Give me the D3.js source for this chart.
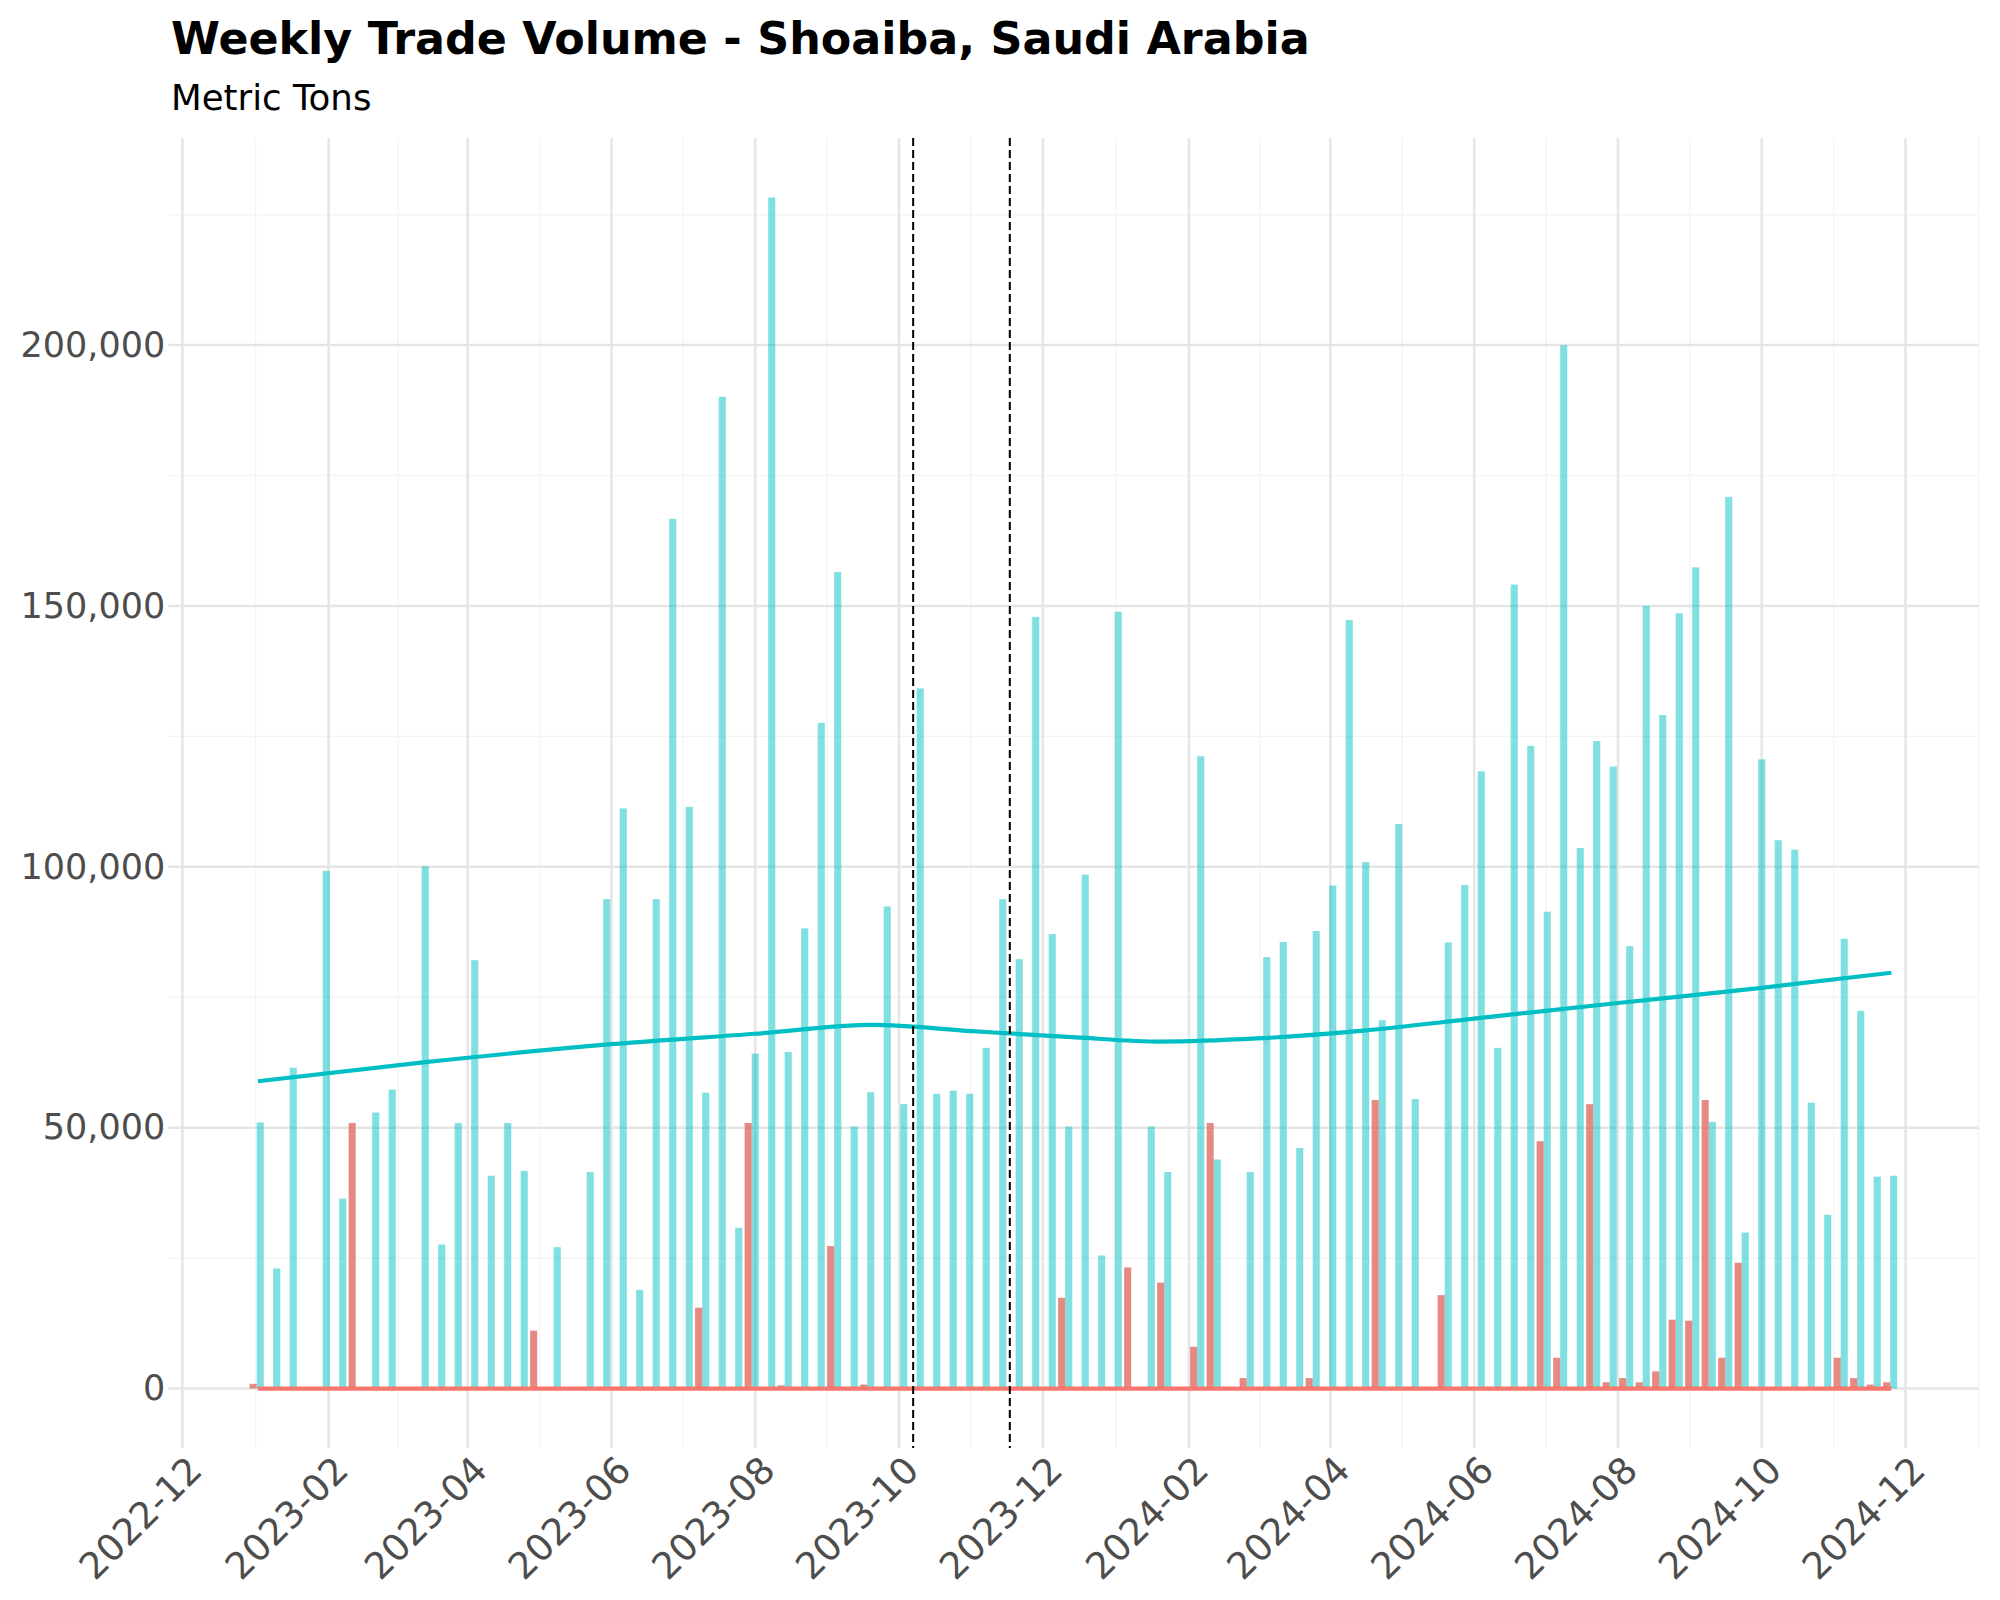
<!DOCTYPE html>
<html>
<head>
<meta charset="utf-8">
<title>Weekly Trade Volume - Shoaiba, Saudi Arabia</title>
<script src="https://cdn.jsdelivr.net/npm/d3@7"></script>
<style>
  body { margin: 0; background: #fff; }
  text { font-family: "DejaVu Sans", sans-serif; }
</style>
</head>
<body>
<div id="chart"></div>
<script>
// teal series: one bar per week, first week 2023-01-03 (0 = no bar that week)
var tealStart = "2023-01-03";
var tealVolumes = [
  51000, 23000, 61500, 0, 99200, 36400, 0, 52900, 57300, 0,
  100100, 27600, 50900, 82100, 40800, 50900, 41700, 0, 27100, 0,
  41500, 93800, 111200, 18900, 93800, 166700, 111500, 56700, 190100, 30800,
  64200, 228300, 64500, 88200, 127600, 156500, 50200, 56800, 92400, 54500,
  134200, 56500, 57100, 56500, 65300, 93800, 82300, 147900, 87100, 50200,
  98500, 25500, 148900, 0, 50200, 41500, 0, 121200, 43900, 0,
  41500, 82700, 85600, 46100, 87700, 96400, 147300, 100900, 70600, 108200,
  55500, 0, 85500, 96500, 118300, 65300, 154100, 123200, 91400, 200000,
  103600, 124100, 119200, 84800, 150000, 129100, 148600, 157400, 51100, 170900,
  29900, 120600, 105100, 103300, 54800, 33300, 86200, 72400, 40600, 40800
];

// red series: sparse weeks
var redDates = [
  "2022-12-31", "2023-02-11", "2023-04-29", "2023-07-08", "2023-07-29", "2023-08-12",
  "2023-09-02", "2023-09-16", "2023-12-09", "2024-01-06", "2024-01-20", "2024-02-03",
  "2024-02-10", "2024-02-24", "2024-03-23", "2024-04-20", "2024-05-18", "2024-06-29",
  "2024-07-06", "2024-07-20", "2024-07-27", "2024-08-03", "2024-08-10", "2024-08-17",
  "2024-08-24", "2024-08-31", "2024-09-07", "2024-09-14", "2024-09-21", "2024-11-02",
  "2024-11-09", "2024-11-16", "2024-11-23"
];
var redVolumes = [
  900, 50900, 11100, 15500, 50900, 600,
  27300, 750, 17400, 23200, 20300, 8000,
  50900, 2000, 2000, 55300, 17900, 47400,
  5900, 54500, 1200, 2000, 1200, 3300,
  13200, 13000, 55300, 5900, 24100, 5900,
  2000, 750, 1200
];

// smoothed trend lines
var trendDates = [
  "2023-01-02", "2023-03-15", "2023-06-01", "2023-08-01", "2023-09-20", "2023-11-01",
  "2023-12-15", "2024-01-20", "2024-03-01", "2024-04-15", "2024-06-01", "2024-08-01",
  "2024-10-01", "2024-11-25"
];
var tealTrend = [
  58900, 62600, 66000, 68000, 69700, 68500,
  67300, 66500, 67100, 68600, 70900, 73900,
  76800, 79700
];
var redTrendDates = ["2023-01-02", "2024-11-25"];
var redTrend = [0, 0];

var eventDates = ["2023-10-07", "2023-11-17"];

var xTicks = [
  "2022-12-01", "2023-02-01", "2023-04-01", "2023-06-01", "2023-08-01", "2023-10-01",
  "2023-12-01", "2024-02-01", "2024-04-01", "2024-06-01", "2024-08-01", "2024-10-01",
  "2024-12-01"
];
var yTicks = [0, 50000, 100000, 150000, 200000];
var yMinor = [25000, 75000, 125000, 175000, 225000];

var W = 2000, H = 1600;
var panel = {left: 168.3, right: 1978.6, top: 138, bottom: 1448};
var parse = d3.utcParse("%Y-%m-%d");

var x = d3.scaleUtc()
  .domain([parse("2022-11-25"), parse("2025-01-01")])
  .range([panel.left, panel.right]);
var y = d3.scaleLinear()
  .domain([-11400, 239700])
  .range([panel.bottom, panel.top]);

var svg = d3.select("#chart").append("svg")
  .attr("width", W)
  .attr("height", H)
  .style("background", "#fff");

// titles
svg.append("text")
  .attr("x", 171).attr("y", 54)
  .attr("font-size", 44.4).attr("font-weight", "bold")
  .attr("fill", "#000")
  .text("Weekly Trade Volume - Shoaiba, Saudi Arabia");
svg.append("text")
  .attr("x", 171).attr("y", 110)
  .attr("font-size", 35.6)
  .attr("fill", "#000")
  .text("Metric Tons");

// grid
var xTickDates = xTicks.map(parse);
var xMinor = [];
for (var i = 0; i < xTickDates.length; i++) {
  var a = xTickDates[i];
  var b = i < xTickDates.length - 1 ? xTickDates[i + 1] : d3.utcMonth.offset(a, 2);
  var mid = new Date((a.getTime() + b.getTime()) / 2);
  if (x(mid) <= panel.right) xMinor.push(mid);
}

var grid = svg.append("g");
grid.selectAll(".ymin").data(yMinor).enter().append("line")
  .attr("x1", panel.left).attr("x2", panel.right)
  .attr("y1", function(d) { return y(d); }).attr("y2", function(d) { return y(d); })
  .attr("stroke", "#f4f4f4").attr("stroke-width", 1.4);
grid.selectAll(".xmin").data(xMinor).enter().append("line")
  .attr("x1", function(d) { return x(d); }).attr("x2", function(d) { return x(d); })
  .attr("y1", panel.top).attr("y2", panel.bottom)
  .attr("stroke", "#f4f4f4").attr("stroke-width", 1.4);
grid.selectAll(".ymaj").data(yTicks).enter().append("line")
  .attr("x1", panel.left).attr("x2", panel.right)
  .attr("y1", function(d) { return y(d); }).attr("y2", function(d) { return y(d); })
  .attr("stroke", "#e5e5e5").attr("stroke-width", 2.5);
grid.selectAll(".xmaj").data(xTickDates).enter().append("line")
  .attr("x1", function(d) { return x(d); }).attr("x2", function(d) { return x(d); })
  .attr("y1", panel.top).attr("y2", panel.bottom)
  .attr("stroke", "#e5e5e5").attr("stroke-width", 2.5);

// axes labels (no lines, no ticks)
var yAxis = svg.append("g")
  .attr("transform", "translate(" + (panel.left - 3) + ",0)")
  .call(d3.axisLeft(y).tickValues(yTicks).tickSize(0).tickPadding(0).tickFormat(d3.format(",")));
yAxis.select(".domain").remove();
yAxis.selectAll("text")
  .attr("font-size", 35)
  .attr("font-family", "DejaVu Sans, sans-serif")
  .attr("fill", "#4d4d4d");

var xAxis = svg.append("g")
  .attr("transform", "translate(0," + panel.bottom + ")")
  .call(d3.axisBottom(x).tickValues(xTickDates).tickSize(0).tickFormat(d3.utcFormat("%Y-%m")));
xAxis.select(".domain").remove();
xAxis.selectAll("text")
  .attr("font-size", 37)
  .attr("font-family", "DejaVu Sans, sans-serif")
  .attr("fill", "#4d4d4d")
  .attr("text-anchor", "end")
  .attr("y", 0).attr("dy", "0.7em")
  .attr("transform", "translate(3,6) rotate(-45)");

// bars
var tealData = tealVolumes.map(function(v, i) {
  return {date: d3.utcDay.offset(parse(tealStart), 7 * i), value: v};
}).filter(function(d) { return d.value > 0; });
var redData = redDates.map(function(d, i) {
  return {date: parse(d), value: redVolumes[i]};
});
var halfW = 1.5; // days

function drawBars(data, fill, opacity) {
  svg.append("g").selectAll("rect").data(data).enter().append("rect")
    .attr("x", function(d) { return x(d3.utcHour.offset(d.date, -halfW * 24)); })
    .attr("width", function(d) {
      return x(d3.utcHour.offset(d.date, halfW * 24)) - x(d3.utcHour.offset(d.date, -halfW * 24));
    })
    .attr("y", function(d) { return y(d.value); })
    .attr("height", function(d) { return y(0) - y(d.value); })
    .attr("fill", fill)
    .attr("fill-opacity", opacity);
}
drawBars(tealData, "#00BFC4", 0.5);
drawBars(redData, "#DF6B63", 0.8);

// trend lines
var line = d3.line()
  .x(function(d) { return x(d.date); })
  .y(function(d) { return y(d.value); })
  .curve(d3.curveMonotoneX);

svg.append("path")
  .datum(trendDates.map(function(d, i) { return {date: parse(d), value: tealTrend[i]}; }))
  .attr("d", line)
  .attr("fill", "none")
  .attr("stroke", "#00BFC4")
  .attr("stroke-width", 4.2);
svg.append("path")
  .datum(redTrendDates.map(function(d, i) { return {date: parse(d), value: redTrend[i]}; }))
  .attr("d", line)
  .attr("fill", "none")
  .attr("stroke", "#F8766D")
  .attr("stroke-width", 4.2);

// event markers
svg.append("g").selectAll("line").data(eventDates.map(parse)).enter().append("line")
  .attr("x1", function(d) { return x(d); }).attr("x2", function(d) { return x(d); })
  .attr("y1", panel.top).attr("y2", panel.bottom)
  .attr("stroke", "#000")
  .attr("stroke-width", 2)
  .attr("stroke-dasharray", "8,4");
</script>
</body>
</html>
